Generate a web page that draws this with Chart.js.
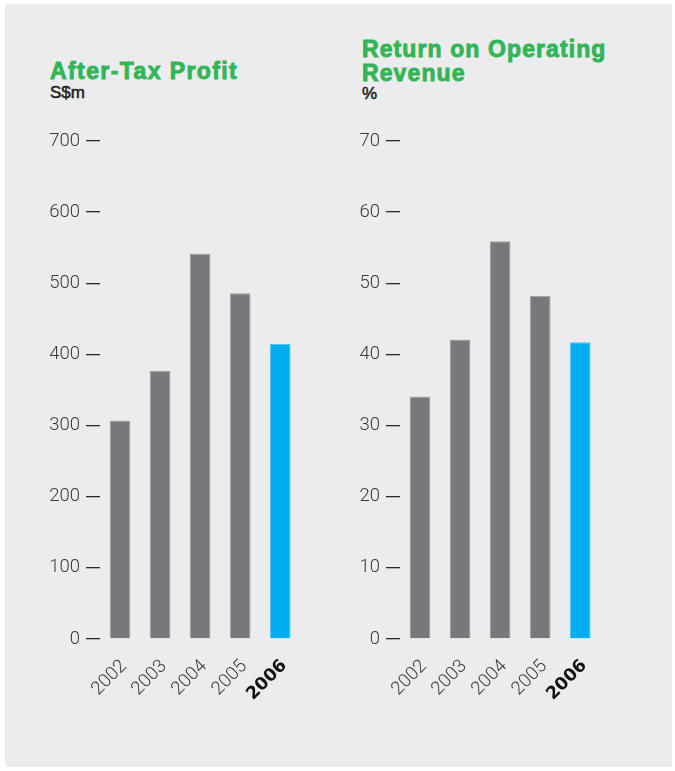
<!DOCTYPE html>
<html>
<head>
<meta charset="utf-8">
<script src="https://cdn.jsdelivr.net/npm/chart.js@4/dist/chart.umd.min.js"></script>
<style>
body { margin: 0; background: #ffffff; }
#page { position: relative; width: 675px; height: 771px; overflow: hidden; }
#panel { position: absolute; left: 5px; top: 4px; width: 667px; height: 763px; background: #ececee; }
.title { position: absolute; font-family: "Liberation Sans", Arial, sans-serif; font-weight: bold; font-size: 23px; line-height: 24px; color: #33b556; letter-spacing: 1.1px; -webkit-text-stroke: 0.9px #33b556; white-space: nowrap; }
.unit { position: absolute; font-family: "Liberation Sans", Arial, sans-serif; font-size: 17px; line-height: 20px; color: #1e1e1e; -webkit-text-stroke: 0.5px #1e1e1e; }
canvas { position: absolute; }
</style>
</head>
<body>
<div id="page">
  <div id="panel"></div>
  <div class="title" style="left:50px; top:59px; letter-spacing:1.4px;">After-Tax Profit</div>
  <div class="unit" style="left:50px; top:83px;">S$m</div>
  <div class="title" style="left:362px; top:37px;">Return on Operating<br>Revenue</div>
  <div class="unit" style="left:362px; top:84px;">%</div>
  <div style="position:absolute; left:0; top:0; width:306px; height:771px;"><canvas id="profitChart"></canvas></div>
  <div style="position:absolute; left:317px; top:0; width:289px; height:771px;"><canvas id="returnChart"></canvas></div>
</div>

<script>
const years = ['2002', '2003', '2004', '2005', '2006'];
const afterTaxProfit = [307, 377, 542, 486, 415];
const returnOnRevenue = [34.1, 42.1, 55.9, 48.2, 41.7];
const profitTicks = [0, 100, 200, 300, 400, 500, 600, 700];
const returnTicks = [0, 10, 20, 30, 40, 50, 60, 70];

const barColors = ['#77787b', '#77787b', '#77787b', '#77787b', '#00aeef'];
const barBorders = ['#a3a4a7', '#a3a4a7', '#a3a4a7', '#a3a4a7', '#4cc8f3'];

// nudge the rotated year labels a little to the right of the bar centre
const shiftYearLabels = {
    id: 'shiftYearLabels',
    beforeDraw(chart) {
        const items = chart.scales.x.getLabelItems();
        if (items._shifted) return;
        items.forEach(item => { item.options.translation[0] += 4; });
        items._shifted = true;
    }
};

function makeBarChart(canvasId, values, tickValues, axisWidth) {
    const ctx = document.getElementById(canvasId).getContext('2d');

    return new Chart(ctx, {
        type: 'bar',
        data: {
            labels: years,
            datasets: [{
                data: values,
                backgroundColor: barColors,
                borderColor: barBorders,
                borderWidth: 1,
                borderSkipped: 'bottom',
                barPercentage: 0.52,
                categoryPercentage: 1
            }]
        },
        plugins: [shiftYearLabels],
        options: {
            responsive: true,
            maintainAspectRatio: false,
            animation: false,
            layout: { padding: { top: 141, left: 0, right: 0, bottom: 0 } },
            plugins: {
                legend: { display: false },
                tooltip: { enabled: false }
            },
            scales: {
                x: {
                    grid: { display: false },
                    border: { display: false },
                    ticks: {
                        autoSkip: false,
                        minRotation: 45,
                        maxRotation: 45,
                        padding: 6,
                        color: function(c) { return c.index === 4 ? '#111111' : '#3a3a3a'; },
                        font: function(c) {
                            if (c.index === 4) {
                                return { family: 'DejaVu Sans', size: 17.5, weight: 'bold', lineHeight: 1.6 };
                            }
                            return { family: 'Roboto', size: 18.5, weight: '300', lineHeight: 1.6 };
                        }
                    },
                    afterFit: function(scale) { scale.height = 132; }
                },
                y: {
                    min: tickValues[0],
                    max: tickValues[tickValues.length - 1],
                    afterBuildTicks: function(scale) {
                        scale.ticks = tickValues.map(v => ({ value: v }));
                    },
                    grid: {
                        drawOnChartArea: false,
                        drawTicks: true,
                        tickLength: 14,
                        color: '#2a2a2a',
                        lineWidth: 1.3
                    },
                    border: { display: false },
                    ticks: {
                        padding: 6,
                        color: '#3a3a3a',
                        font: { family: 'Roboto', size: 18.5, weight: '300' }
                    },
                    afterFit: function(scale) { scale.width = axisWidth; }
                }
            }
        }
    });
}

makeBarChart('profitChart', afterTaxProfit, profitTicks, 100);
makeBarChart('returnChart', returnOnRevenue, returnTicks, 83);
</script>
</body>
</html>
